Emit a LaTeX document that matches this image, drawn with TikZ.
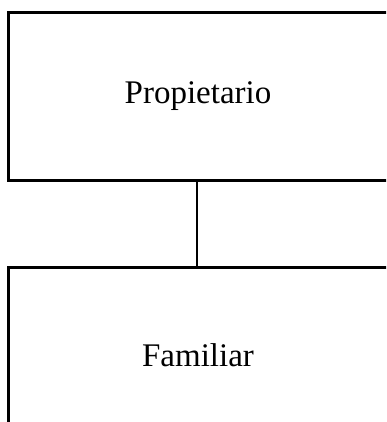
\documentclass[tikz,border=0pt]{standalone}
\usepackage{fontspec}
\setmainfont{Liberation Serif}
\usetikzlibrary{positioning}

\begin{document}
\begin{tikzpicture}[
    x=1pt, y=-1pt, % One unit per pixel, y down
    box/.style={draw, line width=3pt, minimum width=380pt, inner sep=0pt,
        font=\fontsize{33}{40}\selectfont}, % Style for the entity boxes
    link/.style={line width=2pt} % Style for the connector
]

    % Picture frame (boxes run past the right and bottom edges)
    \useasboundingbox (0,0) rectangle (386,422);
    \clip (0,0) rectangle (386,422);

    % Boxes
    \node[box, minimum height=167pt] (prop) at (198, 96.5) {Propietario};
    \node[box, minimum height=176pt, below=84pt of prop] (fam) {Familiar};

    % Connector
    \draw[link] ([xshift=-1pt]prop.south) -- ([xshift=-1pt]fam.north);

\end{tikzpicture}
\end{document}
